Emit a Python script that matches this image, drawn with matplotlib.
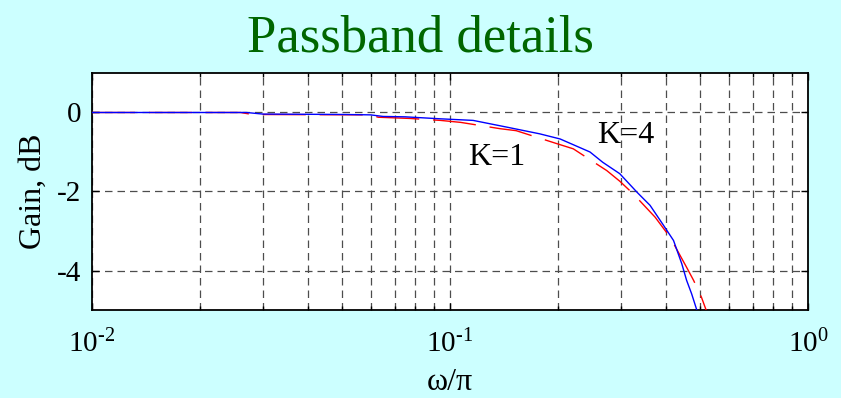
import numpy as np
import matplotlib
matplotlib.use("Agg")
import matplotlib.pyplot as plt
from matplotlib.ticker import LogLocator, NullFormatter, FixedLocator, FuncFormatter

plt.rcParams['font.family'] = ['Liberation Serif', 'DejaVu Serif']
plt.rcParams['mathtext.fontset'] = 'custom'
plt.rcParams['mathtext.rm'] = 'Liberation Serif'
plt.rcParams['mathtext.it'] = 'Liberation Serif:italic'
plt.rcParams['mathtext.default'] = 'regular'
plt.rcParams['axes.unicode_minus'] = False

# Normalised frequency (omega/pi) and passband gain in dB
w_k4 = [0.01, 0.027, 0.030, 0.05, 0.060, 0.065, 0.075, 0.094, 0.116, 0.144,
        0.178, 0.203, 0.246, 0.267, 0.298, 0.333, 0.362, 0.395, 0.421,
        0.444, 0.458, 0.473, 0.491]
gain_k4 = [0.0, 0.0, -0.04, -0.05, -0.06, -0.10, -0.11, -0.16, -0.20, -0.37,
           -0.54, -0.67, -1.00, -1.26, -1.55, -2.02, -2.35, -2.86, -3.24,
           -3.83, -4.25, -4.59, -5.05]

w_k1 = [0.01, 0.026, 0.028, 0.06, 0.063, 0.077, 0.094, 0.107, 0.138, 0.153,
        0.199, 0.221, 0.274, 0.298, 0.325, 0.374, 0.412, 0.458, 0.479,
        0.504, 0.523]
gain_k1 = [0.0, 0.0, -0.05, -0.06, -0.12, -0.15, -0.20, -0.25, -0.41, -0.46,
           -0.79, -0.92, -1.47, -1.74, -2.06, -2.65, -3.16, -3.92, -4.25,
           -4.68, -5.08]

y_ticks = [0, -2, -4]
x_ticks = [0.01, 0.1, 1.0]
curve_labels = [("K=1", 0.112, -1.34), ("K=4", 0.258, -0.78)]


def decade_label(v, pos):
    exp = int(round(np.log10(v)))
    return r'$10^{\text{%d}}$' % exp


fig = plt.figure(figsize=(8.41, 3.98), dpi=100, facecolor='#ccffff')
ax = fig.add_axes([0.1094, 0.2211, 0.8514, 0.5955])
ax.set_facecolor('white')

ax.plot(w_k1, gain_k1, color='red', lw=1.0, ls=(0, (31, 10)), zorder=3)
ax.plot(w_k4, gain_k4, color='blue', lw=1.0, zorder=4)

ax.set_xscale('log')
ax.set_xlim(0.01, 1)
ax.set_ylim(-5, 1)
ax.yaxis.set_major_locator(FixedLocator(y_ticks))
ax.xaxis.set_major_locator(FixedLocator(x_ticks))
ax.xaxis.set_major_formatter(FuncFormatter(decade_label))
ax.xaxis.set_minor_locator(LogLocator(base=10, subs=np.arange(2, 10)))
ax.xaxis.set_minor_formatter(NullFormatter())

grid_kw = dict(color='0.3', lw=0.9, ls=(0, (6, 4)))
ax.grid(True, which='both', axis='x', **grid_kw)
ax.grid(True, which='major', axis='y', **grid_kw)
ax.set_axisbelow(True)

ax.tick_params(which='both', direction='in', top=True, right=True,
               labelsize=21, width=1, colors='black')
ax.tick_params(which='major', length=5)
ax.tick_params(which='minor', length=3)
ax.tick_params(axis='x', which='major', pad=14)
ax.tick_params(axis='y', which='major', pad=8)
for s in ax.spines.values():
    s.set_linewidth(1.3)

for txt, xv, yv in curve_labels:
    ax.text(xv, yv, txt, fontsize=23, ha='left', va='baseline', zorder=5)

ax.set_xlabel('ω/π', fontsize=23, labelpad=7)
ax.set_ylabel('Gain, dB', fontsize=23, labelpad=6)
fig.text(0.5, 0.87, 'Passband details', fontsize=38, color='#006600',
         ha='center', va='baseline')

fig.savefig('out.png', dpi=100, facecolor=fig.get_facecolor())
